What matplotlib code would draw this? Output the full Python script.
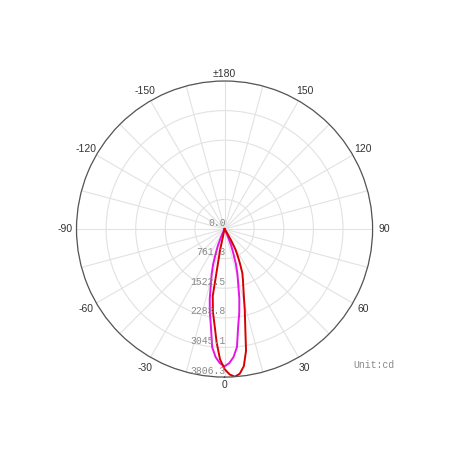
import numpy as np
import matplotlib.pyplot as plt
from matplotlib.transforms import offset_copy

# luminous intensity (cd) vs angle (deg)
red_deg = [-14, -12, -10, -8, -6, -4, -2, 0, 2, 4, 6, 8, 10, 12, 14, 16, 18,
           20, 22, 24, 26, 28, 30, 32, 34, 36]
red_cd = [0, 550, 1750, 2150, 2470, 2920, 3350, 3600, 3740, 3806, 3740, 3560,
          3180, 2560, 2150, 1800, 1560, 1380, 1220, 980, 780, 600, 340, 130,
          30, 0]

mag_deg = [-28, -26, -24, -22, -20, -18, -16, -14, -12, -10, -8, -6, -4, -2,
           0, 2, 4, 6, 8, 10, 12, 14, 16, 18, 20, 22, 24, 26, 28]
mag_cd = [0, 50, 200, 450, 650, 950, 1200, 1450, 1830, 2180, 2520, 3050,
          3300, 3450, 3530, 3450, 3300, 3050, 2520, 2180, 1830, 1450, 1200,
          950, 650, 450, 200, 50, 0]

ring_values = [0.0, 761.3, 1522.5, 2283.8, 3045.1, 3806.3]
ring_labels = ["0.0", "761.3", "1522.5", "2283.8", "3045.1", "3806.3"]

angle_ticks = [0, 30, 60, 90, 120, 150, 180, -150, -120, -90, -60, -30]
angle_labels = ["0", "30", "60", "90", "120", "150", "\u00b1180",
                "-150", "-120", "-90", "-60", "-30"]

fig = plt.figure(figsize=(4.5, 4.5), dpi=100)
ax = fig.add_axes([0.17, 0.162, 0.658, 0.658], projection="polar")
ax.set_theta_zero_location("S")
ax.set_theta_direction(1)
rmax = ring_values[-1]
ax.set_ylim(0, rmax)

ax.set_xticks(np.radians(np.arange(0, 360, 15)))
ax.set_xticklabels([])
ax.set_yticks(ring_values[1:])
ax.set_yticklabels([])
ax.grid(True, color="#e2e2e2", lw=0.8)
ax.spines["polar"].set_color("#555555")
ax.spines["polar"].set_linewidth(0.9)
ax.tick_params(length=0)

ax.plot(np.radians(mag_deg), mag_cd, color="#e614e6", lw=1.4)
ax.plot(np.radians(red_deg), red_cd, color="#d80000", lw=1.4)

for a, lab in zip(angle_ticks, angle_labels):
    f = 1.05 if a in (0, 180) else 1.08
    ax.text(np.radians(a), rmax * f, lab, ha="center", va="center",
            fontsize=7.5, color="#333333", family="Liberation Sans",
            clip_on=False)

tr = offset_copy(ax.transData, fig=fig, x=1.0, y=1.5, units="dots")
for v, lab in zip(ring_values, ring_labels):
    ax.text(0, v, lab, transform=tr, ha="right", va="bottom", fontsize=7,
            color="#8a8a8a", family="Liberation Mono", zorder=5)

fig.text(0.785, 0.19, "Unit:cd", fontsize=7, color="#8a8a8a",
         family="Liberation Mono", va="center")

fig.savefig("out.png", dpi=100)
